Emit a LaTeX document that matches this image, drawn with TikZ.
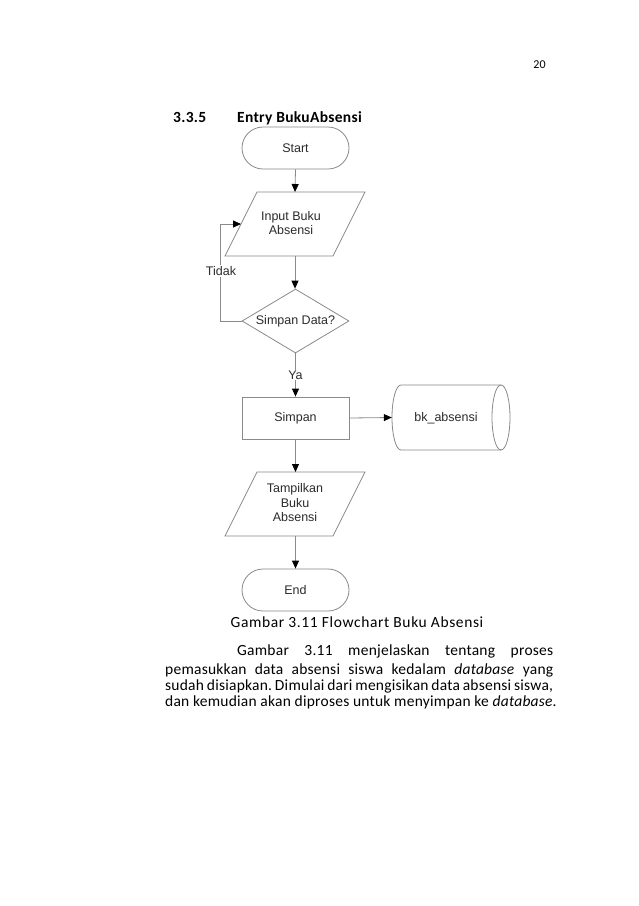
\documentclass[tikz,border=0pt]{standalone}
\usepackage{fontspec}
\setmainfont{Carlito}
\newfontfamily\bodyf[LetterSpace=1.5]{Carlito}
\newfontfamily\capf[LetterSpace=4]{Carlito}
\newfontfamily\headf[LetterSpace=2]{Carlito}
\newfontfamily\arialf{Liberation Sans}
\usetikzlibrary{shapes.geometric,arrows.meta}
\definecolor{lineg}{HTML}{8A8A8A}
\definecolor{txtg}{HTML}{2B2B2B}
\begin{document}
\frenchspacing
\begin{tikzpicture}[x=1pt,y=-1pt,
  fc/.style={font=\arialf\fontsize{12.5}{14.5}\selectfont, text=txtg, align=center},
  shp/.style={draw=lineg, line width=0.8pt, fill=white, inner sep=0pt},
  term/.style={shp, fc, rectangle, rounded corners=21pt, minimum width=107pt, minimum height=42pt},
  decbox/.style={shp, fc, diamond, aspect=1.67, minimum width=107pt, minimum height=64pt},
  procbox/.style={shp, fc, rectangle, minimum width=107pt, minimum height=42pt},
  conn/.style={draw=lineg, line width=0.8pt},
  arr/.style={conn, -{Triangle[length=8pt,width=7pt,color=black]}},
  lbl/.style={fc, fill=white, inner sep=1pt},
  body/.style={font=\bodyf\fontsize{15.5}{18}\selectfont, inner sep=0pt, anchor=base west, text=black}
]
\fill[white] (0,0) rectangle (638,906);
\useasboundingbox (0,0) rectangle (638,906);

% page number and heading
\node[body, font=\bodyf\fontsize{12}{14}\selectfont, anchor=base east] (pg) at (546,68) {20};
\node[body, font=\headf\bfseries\fontsize{15.5}{18}\selectfont] (num) at (173,122) {3.3.5};
\node[body, font=\headf\bfseries\fontsize{15.5}{18}\selectfont] (ttl) at (237,122) {Entry BukuAbsensi};

% flowchart nodes
\node[term] (start) at (295.5,148) {Start};

\draw[conn, fill=white] (257,192) -- (365,192) -- (333,256) -- (225,256) -- cycle;
\coordinate (inpN) at (295,192);
\coordinate (inpS) at (295,256);
\coordinate (inpW) at (241,224);
\node[fc] (inp) at (291,223) {Input Buku\\Absensi};

\node[decbox] (dec) at (295.5,321) {Simpan Data?};
\node[procbox] (simpan) at (295.5,418) {Simpan};

\draw[conn, fill=white] (257,472) -- (365,472) -- (333,536) -- (225,536) -- cycle;
\coordinate (tamN) at (295.5,472);
\coordinate (tamS) at (295.5,536);
\node[fc] (tampil) at (295,503) {Tampilkan\\Buku\\Absensi};

\node[term] (end) at (295.5,590) {End};

% stored data (cylinder)
\node[inner sep=0pt, minimum width=118pt, minimum height=65pt] (db) at (451,417.5) {};
\draw[conn, fill=white] (401,385) -- (501,385)
  arc[start angle=-90, end angle=90, x radius=9, y radius=32.5]
  -- (401,450)
  arc[start angle=90, end angle=270, x radius=9, y radius=32.5] -- cycle;
\draw[conn] (501,450) arc[start angle=90, end angle=270, x radius=9, y radius=32.5];
\node[fc] (dbtxt) at (446,418) {bk\_absensi};

% connectors
\draw[arr] (start.south) -- (inpN);
\draw[arr] (inpS) -- (inpS |- dec.north);
\draw[arr] (dec.west) -- ++(-21,0) |- (inpW);
\node[lbl] (tidak) at (221,271) {Tidak};
\draw[arr] (dec.south) -- (dec.south |- simpan.north);
\node[lbl] (ya) at (295.5,375) {Ya};
\draw[arr] (simpan.east) -- (db.west);
\draw[arr] (simpan.south) -- (tamN);
\draw[arr] (tamS) -- (tamS |- end.north);

% caption and paragraph
\node[body, font=\capf\fontsize{15.5}{18}\selectfont, anchor=base] (cap) at (357,627) {Gambar 3.11 Flowchart Buku Absensi};
\node[body] (l1) at (237,655) {\makebox[316pt][s]{Gambar 3.11 menjelaskan tentang proses}};
\node[body] (l2) at (165,674) {\makebox[388pt][s]{pemasukkan data absensi siswa kedalam \textit{database} yang}};
\node[body] (l3) at (165,690) {\makebox[388pt][s]{sudah disiapkan. Dimulai dari mengisikan data absensi siswa,}};
\node[body] (l4) at (165,706) {dan kemudian akan diproses untuk menyimpan ke \textit{database}.};
\end{tikzpicture}
\end{document}
